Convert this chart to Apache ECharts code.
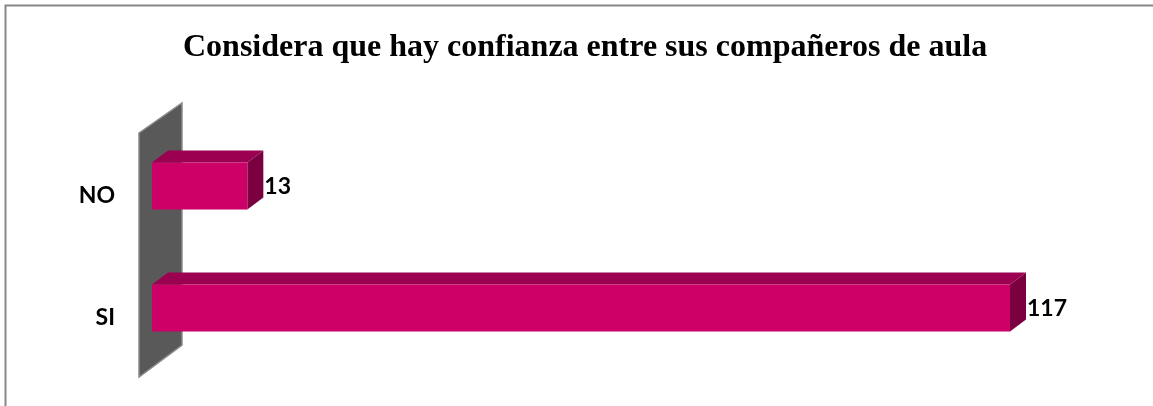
<!DOCTYPE html>
<html>
<head>
<meta charset="utf-8">
<script src="https://cdn.jsdelivr.net/npm/echarts@6/dist/echarts.min.js"></script>
<style>
  html, body { margin: 0; padding: 0; background: #fff; }
  #chart { width: 1153px; height: 406px; }
</style>
</head>
<body>
<div id="chart"></div>
<script>
// datos del grafico
var categories = ["SI", "NO"];
var values = [117, 13];
var titleText = "Considera que hay confianza entre sus compañeros de aula";

(function () {
  var myChart = echarts.init(document.getElementById("chart"));

  // profundidad 3D de las barras
  var depthX = 16;
  var depthY = 12;
  var barH = 47;

  // barra 3D: cara frontal + cara superior + cara lateral
  function renderBar(params, api) {
    var cat = api.value(0);
    var val = api.value(1);
    var p0 = api.coord([0, cat]);
    var p1 = api.coord([val, cat]);
    var cy = p0[1] - 10;
    var x0 = p0[0];
    var x1 = p1[0];
    var y0 = cy - barH / 2;
    var y1 = cy + barH / 2;
    return {
      type: "group",
      children: [
        {
          type: "polygon",
          shape: { points: [[x0, y0], [x0 + depthX, y0 - depthY], [x1 + depthX, y0 - depthY], [x1, y0]] },
          style: { fill: "#9c0050" },
        },
        {
          type: "polygon",
          shape: { points: [[x1, y0], [x1 + depthX, y0 - depthY], [x1 + depthX, y1 - depthY], [x1, y1]] },
          style: { fill: "#7a003f" },
        },
        {
          type: "rect",
          shape: { x: x0, y: y0, width: x1 - x0, height: barH },
          style: { fill: "#cc0066" },
        },
        {
          type: "text",
          style: {
            x: x1 + depthX + 1,
            y: cy + 1,
            text: String(val),
            fill: "#000",
            font: "bold 23px Lato",
            textAlign: "left",
            textVerticalAlign: "middle",
          },
        },
      ],
    };
  }

  // pared gris del fondo
  function renderWall(params, api) {
    var cs = params.coordSys;
    var x = cs.x, y = cs.y, h = cs.height;
    return {
      type: "polygon",
      z2: -10,
      shape: { points: [[x - 13, y - 2], [x + 30, y - 32], [x + 30, y + h - 34], [x - 13, y + h - 2]] },
      style: { fill: "#595959", stroke: "#8a8a8a", lineWidth: 1.5 },
    };
  }

  var option = {
    animation: false,
    title: {
      text: titleText,
      left: 178,
      top: 27,
      textStyle: {
        fontFamily: "Liberation Serif",
        fontWeight: "bold",
        fontSize: 32,
        color: "#000",
      },
    },
    grid: {
      left: 152,
      top: 135,
      width: 880,
      height: 244,
    },
    xAxis: {
      type: "value",
      min: 0,
      max: 120,
      show: false,
    },
    yAxis: {
      type: "category",
      data: categories,
      axisLine: { show: false },
      axisTick: { show: false },
      axisLabel: {
        margin: 37,
        color: "#000",
        fontFamily: "Lato",
        fontWeight: "bold",
        fontSize: 23,
      },
    },
    graphic: [
      {
        type: "polyline",
        shape: { points: [[5.5, 406], [5.5, 5.5], [1153, 5.5]] },
        style: { stroke: "#888", lineWidth: 2, fill: null },
      },
    ],
    series: [
      {
        type: "custom",
        renderItem: renderWall,
        data: [[0, 0]],
        z: 1,
        silent: true,
      },
      {
        type: "custom",
        renderItem: renderBar,
        encode: { x: 1, y: 0 },
        data: categories.map(function (c, i) {
          return [i, values[i]];
        }),
        z: 2,
      },
    ],
  };

  myChart.setOption(option);
  window.addEventListener("resize", function () {
    myChart.resize();
  });
})();
</script>
</body>
</html>
